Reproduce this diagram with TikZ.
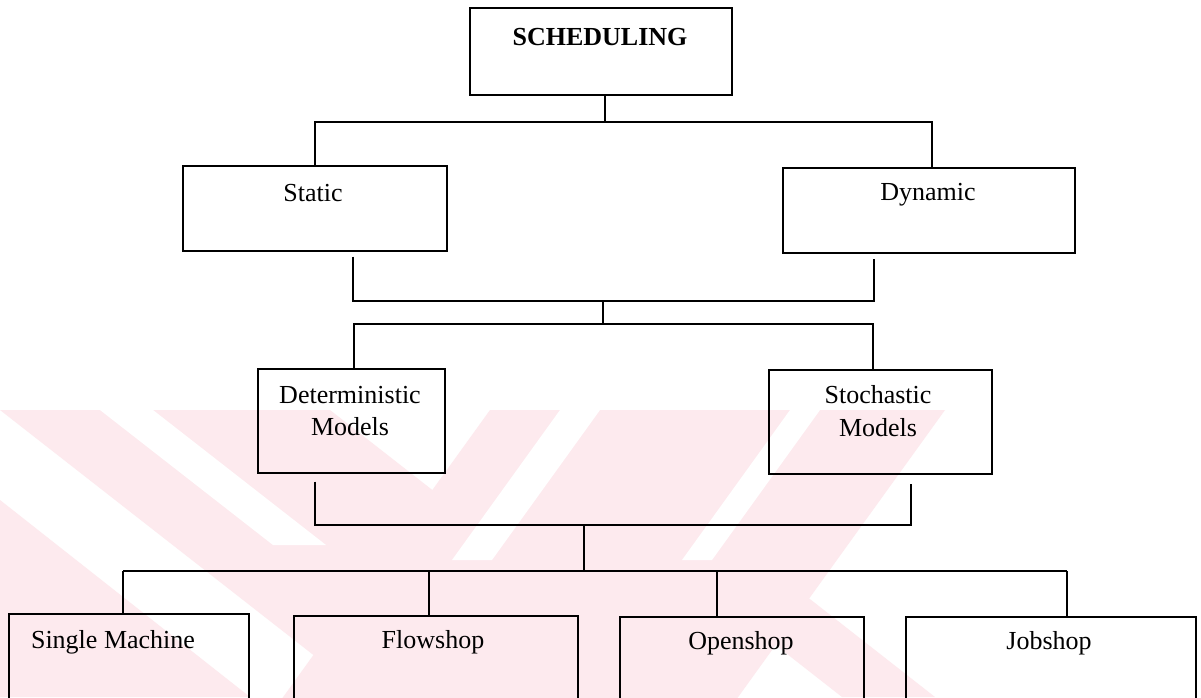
\documentclass[tikz,border=0pt]{standalone}
\usepackage{fontspec}
\setmainfont{Liberation Serif}
\definecolor{wmpink}{RGB}{253,234,238}
\tikzset{
  box/.style={draw=black, line width=1.5pt, rectangle, inner sep=0pt, anchor=north west},
  lbl/.style={inner sep=0pt, font=\fontsize{26}{30}\selectfont, align=center},
  link/.style={draw=black, line width=1.5pt}
}
\begin{document}
\begin{tikzpicture}[x=1pt,y=-1pt]
\useasboundingbox (0,0) rectangle (1201,697);
\clip (0,0) rectangle (1201,697);
\fill[white] (0,0) rectangle (1201,697);

% faint striped emblem in the background
\fill[wmpink] (0,410) -- (330,410) -- (701,700) -- (371,700) -- cycle;
\fill[wmpink] (490,410) -- (945,410) -- (736,700) -- (281,700) -- cycle;
\fill[wmpink] (676,567) -- (769,567) -- (935,697) -- (842,697) -- cycle;
\fill[wmpink] (0,500) -- (250,697) -- (0,697) -- cycle;
\fill[white] (100,410) -- (153,410) -- (326,545) -- (273,545) -- cycle;
\fill[white] (560,410) -- (600,410) -- (492,560) -- (452,560) -- cycle;
\fill[white] (790,410) -- (820,410) -- (712,560) -- (682,560) -- cycle;

% boxes
\node[box, minimum width=262, minimum height=87] (sched) at (469,7) {};
\node[box, minimum width=264, minimum height=85] (static) at (182,165) {};
\node[box, minimum width=292, minimum height=85] (dynamic) at (782,167) {};
\node[box, minimum width=187, minimum height=104] (det) at (257,368) {};
\node[box, minimum width=223, minimum height=104] (sto) at (768,369) {};
\node[box, minimum width=240, minimum height=120] (single) at (8,613) {};
\node[box, minimum width=284, minimum height=120] (flow) at (293,615) {};
\node[box, minimum width=244, minimum height=120] (open) at (619,616) {};
\node[box, minimum width=290, minimum height=120] (job) at (905,616) {};

% labels
\node[lbl, font=\fontsize{26}{30}\selectfont\bfseries] (schedt) at (600,37) {SCHEDULING};
\node[lbl] (statict) at (313,193) {Static};
\node[lbl] (dynamict) at (928,195) {Dynamic};
\node[lbl] (dett1) at (350,395) {Deterministic};
\node[lbl] (dett2) at (350,427) {Models};
\node[lbl] (stot1) at (878,395) {Stochastic};
\node[lbl] (stot2) at (878,428) {Models};
\node[lbl] (singlet) at (113,642) {Single Machine};
\node[lbl] (flowt) at (433,642) {Flowshop};
\node[lbl] (opent) at (741,643) {Openshop};
\node[lbl] (jobt) at (1049,643) {Jobshop};

% junction points
\coordinate (j1) at (605,122);
\coordinate (s1) at (315,122);
\coordinate (d1) at (932,122);
\coordinate (s2) at (353,301);
\coordinate (d2) at (874,301);
\coordinate (j2) at (603,301);
\coordinate (j3) at (603,324);
\coordinate (s3) at (354,324);
\coordinate (d3) at (873,324);
\coordinate (s4) at (315,525);
\coordinate (d4) at (911,525);
\coordinate (j4) at (584,525);
\coordinate (j5) at (584,571);
\coordinate (b1) at (123,571);
\coordinate (b2) at (429,571);
\coordinate (b3) at (717,571);
\coordinate (b4) at (1067,571);

% connectors
\draw[link] (sched.south -| j1) -- (j1);
\draw[link] (static.north -| s1) -- (s1) -- (d1) -- (dynamic.north -| d1);
\draw[link] ([yshift=-5pt]static.south -| s2) -- (s2) -- (d2) -- ([yshift=-5pt]dynamic.south -| d2);
\draw[link] (j2) -- (j3);
\draw[link] (det.north -| s3) -- (s3) -- (d3) -- (sto.north -| d3);
\draw[link] ([yshift=-8pt]det.south -| s4) -- (s4) -- (d4) -- ([yshift=-9pt]sto.south -| d4);
\draw[link] (j4) -- (j5);
\draw[link] (b1) -- (b4);
\draw[link] (b1) -- (single.north -| b1);
\draw[link] (b2) -- (flow.north -| b2);
\draw[link] (b3) -- (open.north -| b3);
\draw[link] (b4) -- (job.north -| b4);
\end{tikzpicture}
\end{document}
